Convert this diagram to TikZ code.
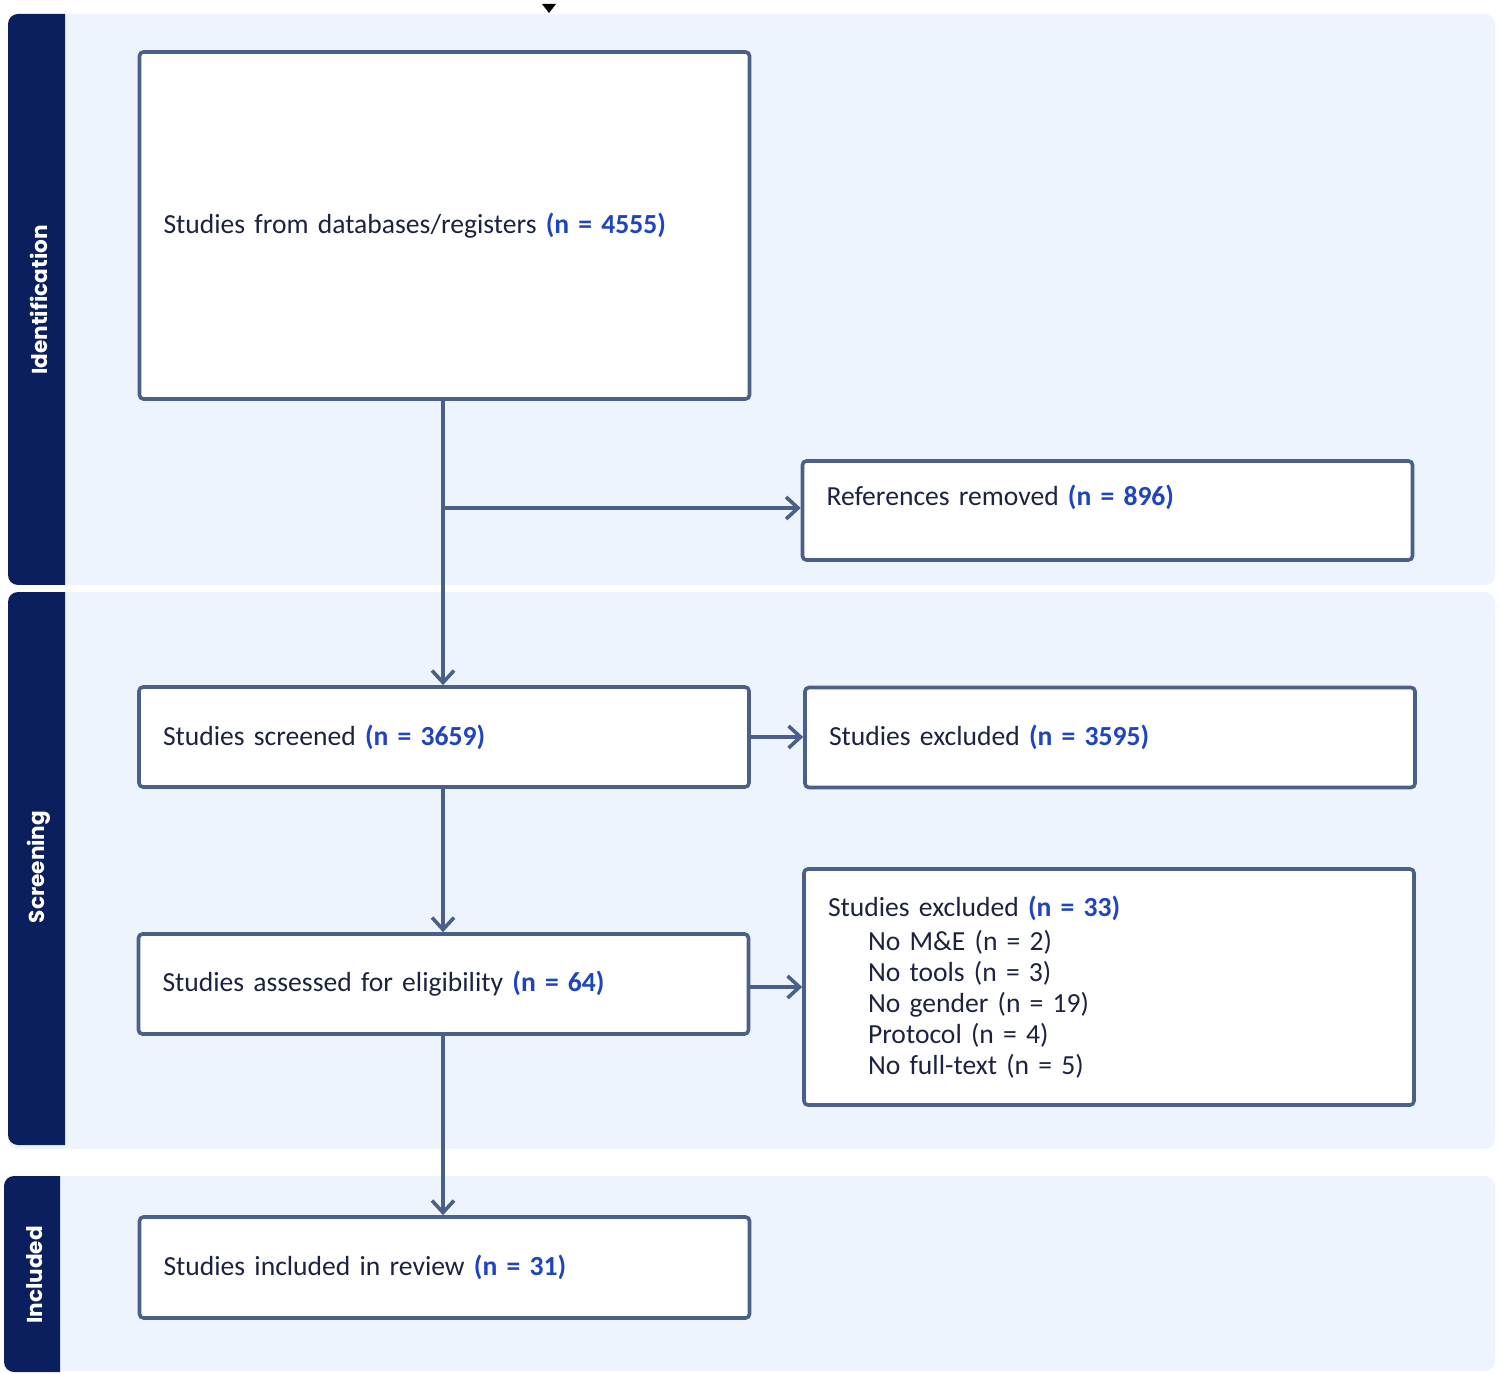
\documentclass[tikz,border=0pt]{standalone}
\usepackage{fontspec}
\setmainfont{Carlito}[WordSpace=0.7]
\newfontfamily\sidefont{Poppins}
\usetikzlibrary{arrows.meta}
\definecolor{navy}{HTML}{0B1F5E}
\definecolor{panelbg}{HTML}{EEF4FD}
\definecolor{stroke}{HTML}{4A6088}
\definecolor{txt}{HTML}{1C2340}
\definecolor{nblue}{HTML}{1E44C0}
\newcommand{\nval}[1]{{\color{nblue}\bfseries(n = #1)}}
\tikzset{
  flowbox/.style={draw=stroke, line width=1.8pt, fill=white, rounded corners=2pt,
    align=left, text width=281pt, inner xsep=12pt, inner ysep=0pt,
    font=\fontsize{13.8}{15.5}\selectfont, text=txt},
  flow/.style={draw=stroke, line width=1.8pt, -{Straight Barb[length=6pt,width=11pt]}},
  panel/.style={fill=panelbg, rounded corners=5pt},
  sidelabel/.style={rotate=90, text=white, font=\sidefont\bfseries\fontsize{10.8}{12}\selectfont}
}
\begin{document}
\begin{tikzpicture}[x=0.5pt,y=-0.5pt]
\useasboundingbox (0,0) rectangle (1500,1374);
% panels
\fill[panel] (8,14) rectangle (1495,585);
\fill[panel] (8,592) rectangle (1495,1149);
\fill[panel] (4,1176) rectangle (1495,1371);
\begin{scope}
  \clip (0,0) rectangle (65,1374);
  \fill[navy, rounded corners=5pt] (8,14) rectangle (90,585);
  \fill[navy, rounded corners=5pt] (8,592) rectangle (90,1145);
\end{scope}
\begin{scope}
  \clip (0,0) rectangle (60,1374);
  \fill[navy, rounded corners=5pt] (4,1176) rectangle (90,1372);
\end{scope}
\node[sidelabel] (lid) at (39,300) {Identification};
\node[sidelabel] (lsc) at (39,867) {Screening};
\node[sidelabel] (lin) at (35,1275) {Included};
% top marker
\fill[black] (542,4) -- (556,4) -- (549,13) -- cycle;
% boxes
\node[flowbox, minimum height=173.5pt] (b1) at (444.5,225.5) {Studies from databases/registers \nval{4555}};
\node[flowbox, minimum height=49.5pt] (ref) at (1107.5,510.5) {References removed \nval{896}\\\mbox{}};
\node[flowbox, minimum height=50pt] (scr) at (444,737) {Studies screened \nval{3659}};
\node[flowbox, minimum height=50pt] (exc1) at (1110,737.5) {Studies excluded \nval{3595}};
\node[flowbox, minimum height=50pt] (ass) at (443.5,984) {Studies assessed for eligibility \nval{64}};
\node[flowbox, minimum height=118pt] (exc2) at (1109,987) {Studies excluded \nval{33}\\[1.5pt]
\hspace*{20pt}No M\&E (n = 2)\\
\hspace*{20pt}No tools (n = 3)\\
\hspace*{20pt}No gender (n = 19)\\
\hspace*{20pt}Protocol (n = 4)\\
\hspace*{20pt}No full-text (n = 5)};
\node[flowbox, minimum height=50.5pt] (inc) at (444.5,1267.5) {Studies included in review \nval{31}};
% connectors
\coordinate (br) at (443,508);
\draw[flow] (b1.south -| br) -- (scr.north -| br);
\draw[flow] (br) -- (br -| ref.west);
\draw[flow] (scr.east) -- (scr.east -| exc1.west);
\draw[flow] (scr.south -| br) -- (ass.north -| br);
\draw[flow] (ass.east |- exc2.west) -- (exc2.west);
\draw[flow] (ass.south -| br) -- (inc.north -| br);
\end{tikzpicture}
\end{document}
